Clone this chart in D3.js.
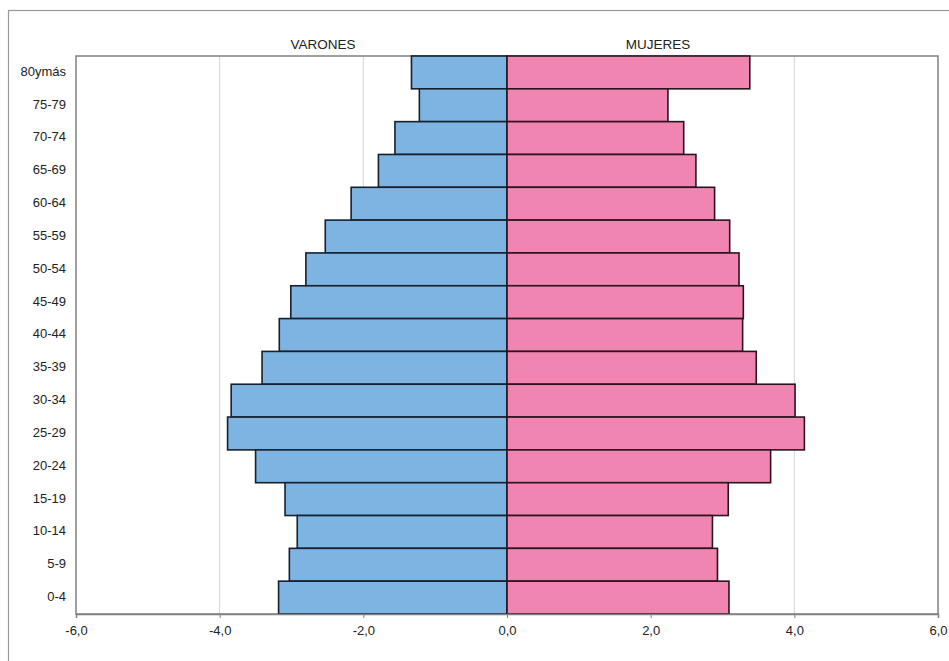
<!DOCTYPE html>
<html>
<head>
<meta charset="utf-8">
<script src="https://cdn.jsdelivr.net/npm/d3@7"></script>
<style>
  html, body { margin: 0; padding: 0; background: #fff; }
  svg { display: block; }
  text { font-family: "Liberation Sans", Arial, sans-serif; fill: #222; }
</style>
</head>
<body>
<svg id="chart" width="949" height="661"></svg>
<script>
const ageGroups = ["80ymás","75-79","70-74","65-69","60-64","55-59","50-54","45-49","40-44","35-39","30-34","25-29","20-24","15-19","10-14","5-9","0-4"];
const varones = [-1.33,-1.22,-1.56,-1.79,-2.17,-2.53,-2.80,-3.01,-3.17,-3.41,-3.84,-3.89,-3.50,-3.09,-2.92,-3.03,-3.18];
const mujeres = [3.38,2.24,2.46,2.63,2.89,3.10,3.23,3.29,3.28,3.47,4.01,4.14,3.67,3.08,2.86,2.93,3.09];
const xTicks = [-6,-4,-2,0,2,4,6];
const seriesNames = ["VARONES","MUJERES"];

(function () {
const svg = d3.select("#chart");
const pL = 76, pR = 938, pT = 56, pB = 614;

// outer frame (cut off at right/bottom like reference)
svg.append("rect").attr("x", 8.5).attr("y", 10.5).attr("width", 960).attr("height", 700)
  .attr("fill", "none").attr("stroke", "#9a9a9a").attr("stroke-width", 1.2);

const x = d3.scaleLinear().domain([-6, 6]).range([pL, pR]);
const y = d3.scaleBand().domain(ageGroups).range([pT, pB]).paddingInner(0).paddingOuter(0);

// gridlines
svg.append("g").selectAll("line").data(xTicks.filter(t => t !== 0 && Math.abs(t) !== 6)).join("line")
  .attr("x1", d => x(d)).attr("x2", d => x(d)).attr("y1", pT).attr("y2", pB)
  .attr("stroke", "#d4d4d4").attr("stroke-width", 1);

// plot frame
svg.append("rect").attr("x", pL).attr("y", pT).attr("width", pR - pL).attr("height", pB - pT)
  .attr("fill", "none").attr("stroke", "#808080").attr("stroke-width", 1.5);

const rows = ageGroups.map((g, i) => ({ g, m: varones[i], f: mujeres[i] }));

// male bars
svg.append("g").selectAll("rect").data(rows).join("rect")
  .attr("x", d => x(d.m)).attr("y", d => y(d.g))
  .attr("width", d => x(0) - x(d.m)).attr("height", y.bandwidth())
  .attr("fill", "#7db4e2").attr("stroke", "#16202e").attr("stroke-width", 1.6);

// female bars
svg.append("g").selectAll("rect").data(rows).join("rect")
  .attr("x", x(0)).attr("y", d => y(d.g))
  .attr("width", d => x(d.f) - x(0)).attr("height", y.bandwidth())
  .attr("fill", "#f185b1").attr("stroke", "#2a1420").attr("stroke-width", 1.6);

// x axis
const fmt = d => d3.format(".1f")(d).replace(".", ",").replace("\u2212", "-");
const xAxis = svg.append("g").attr("transform", `translate(0,${pB})`)
  .call(d3.axisBottom(x).tickValues(xTicks).tickSize(4).tickPadding(8).tickFormat(fmt));
xAxis.select(".domain").attr("stroke", "#808080").attr("stroke-width", 1.5);
xAxis.selectAll(".tick line").attr("stroke", "#808080");
xAxis.selectAll("text").style("font-size", "13px").attr("fill", "#222")
  .style("font-family", "'Liberation Sans', Arial, sans-serif");

// y labels
svg.append("g").selectAll("text").data(ageGroups).join("text")
  .attr("x", 66).attr("y", d => y(d) + y.bandwidth() / 2)
  .attr("text-anchor", "end").attr("dominant-baseline", "middle")
  .style("font-size", "13px").text(d => d);

// series headers
svg.append("g").selectAll("text").data(seriesNames).join("text")
  .attr("x", (d, i) => i === 0 ? 323 : 658).attr("y", 45)
  .attr("text-anchor", "middle").attr("dominant-baseline", "middle")
  .style("font-size", "13.5px").text(d => d);
})();
</script>
</body>
</html>
